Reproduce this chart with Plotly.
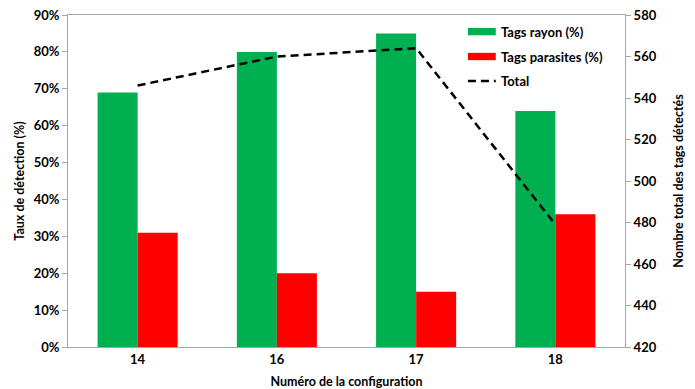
import plotly.graph_objects as go

configs = ["14", "16", "17", "18"]
tags_rayon = [69, 80, 85, 64]        # %
tags_parasites = [31, 20, 15, 36]    # %
total_tags = [546, 560, 564, 479]

green = "#00B050"
red = "#FF0000"
font = "Lato, 'Open Sans', Arial, sans-serif"
axis_grey = "#A6A6A6"

fig = go.Figure()
fig.add_trace(go.Bar(x=configs, y=tags_rayon, name="Tags rayon (%)",
                     marker=dict(color=green, line=dict(width=0)), showlegend=False))
fig.add_trace(go.Bar(x=configs, y=tags_parasites, name="Tags parasites (%)",
                     marker=dict(color=red, line=dict(width=0)), showlegend=False))
fig.add_trace(go.Scatter(x=configs, y=total_tags, name="Total", yaxis="y2",
                         mode="lines", line=dict(color="black", width=2.5, dash="8px,5px"),
                         showlegend=False))

tick_font = dict(family=font, size=13, color="black", weight="bold")
title_font = dict(family=font, size=12.5, color="black", weight="bold")

fig.update_layout(
    width=695, height=389,
    margin=dict(l=68, r=70, t=15, b=42),
    paper_bgcolor="white", plot_bgcolor="white",
    barmode="group", bargap=0.425, bargroupgap=0,
    xaxis=dict(type="category", showline=True, linecolor=axis_grey, linewidth=1,
               mirror=True, ticks="", tickfont=tick_font, automargin=False,
               title=dict(text="Numéro de la configuration", font=title_font, standoff=12)),
    yaxis=dict(range=[0, 90], dtick=10, ticksuffix="%", showgrid=False, zeroline=False,
               showline=True, linecolor=axis_grey, linewidth=1, ticks="outside",
               ticklen=5, tickcolor=axis_grey, tickfont=tick_font, automargin=False,
               title=dict(text="Taux de détection (%)", font=title_font, standoff=6)),
    yaxis2=dict(range=[420, 580], dtick=20, overlaying="y", side="right", showgrid=False,
                zeroline=False, showline=True, linecolor=axis_grey, linewidth=1,
                ticks="outside", ticklen=5, tickcolor=axis_grey, tickfont=tick_font,
                automargin=False,
                title=dict(text="Nombre total des tags détectés", font=title_font, standoff=18)),
)

# Legend drawn inside the plot area, top right
legend_items = [("Tags rayon (%)", green, "bar"),
                ("Tags parasites (%)", red, "bar"),
                ("Total", "black", "line")]
x0, x1 = 0.718, 0.768
ys = [0.950, 0.875, 0.801]
for (label, color, kind), yc in zip(legend_items, ys):
    if kind == "bar":
        fig.add_shape(type="rect", xref="paper", yref="paper", x0=x0, x1=x1,
                      y0=yc - 0.011, y1=yc + 0.011, fillcolor=color, line=dict(width=0))
    else:
        fig.add_shape(type="line", xref="paper", yref="paper", x0=x0, x1=x1,
                      y0=yc, y1=yc, line=dict(color=color, width=2.5, dash="8px,5px"))
    fig.add_annotation(x=x1 + 0.006, y=yc, xref="paper", yref="paper", text=label,
                       showarrow=False, xanchor="left", yanchor="middle",
                       font=dict(family=font, size=13, color="black", weight="bold"))

fig.write_html("out.html")
